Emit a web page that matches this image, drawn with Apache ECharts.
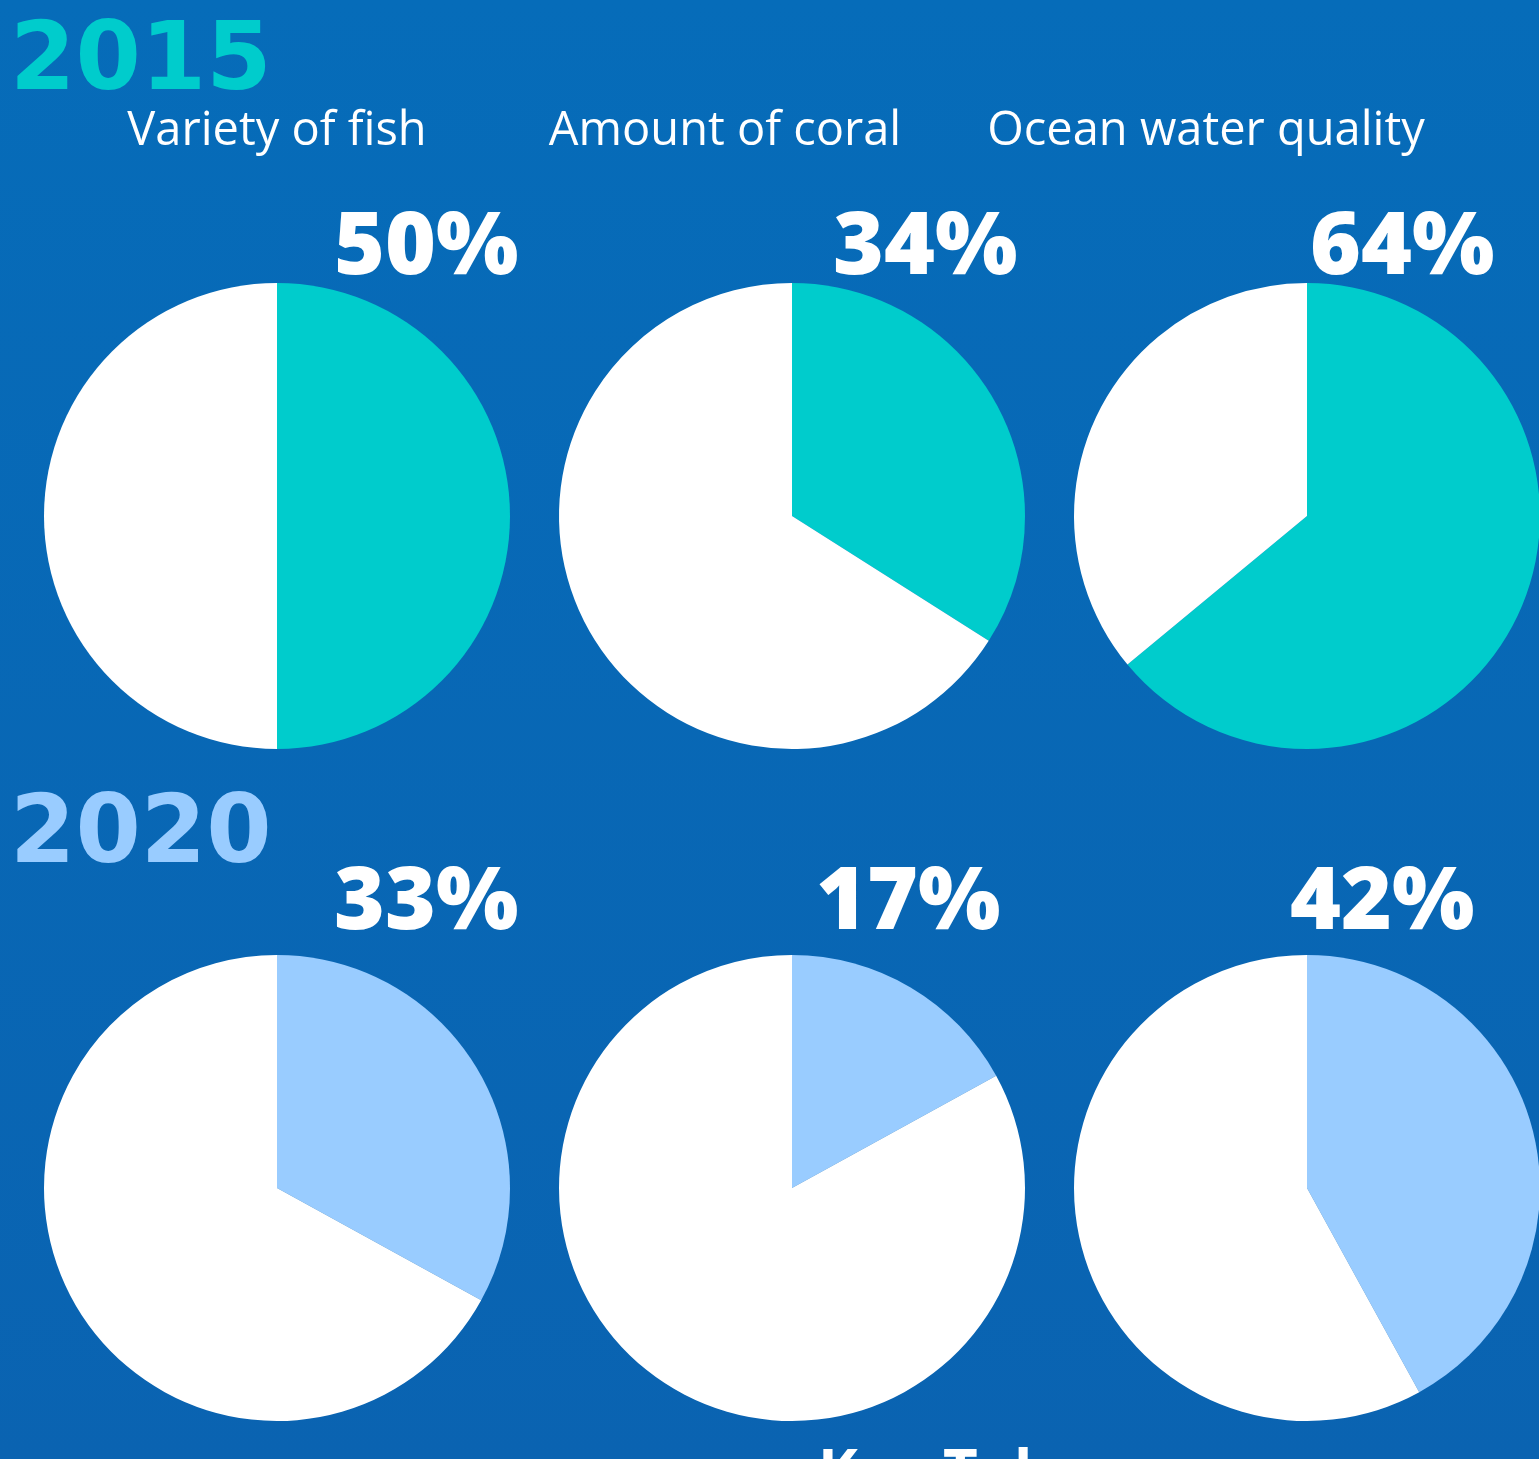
<!DOCTYPE html>
<html>
<head>
<meta charset="utf-8">
<title>Ocean health 2015 vs 2020</title>
<script src="https://cdn.jsdelivr.net/npm/echarts@6/dist/echarts.min.js"></script>
<style>
  html, body { margin: 0; padding: 0; width: 1539px; height: 1459px; overflow: hidden; }
  #chart { width: 1539px; height: 1459px; }
</style>
</head>
<body>
<div id="chart"></div>
<script>
// Indicators shown in each row
const categories = ['Variety of fish', 'Amount of coral', 'Ocean water quality'];
const years = ['2015', '2020'];
// Share (%) per indicator
const values2015 = [50, 34, 64];
const values2020 = [33, 17, 42];

const yearColors = ['#00CCCC', '#99CCFF'];
const restColor = '#FFFFFF';

// Layout (pixels)
const colX = [277, 792, 1307];
const rowY = [516, 1188];
const pieRadius = 233;
const pctLeft = [[334, 833, 1310], [334, 816, 1290]];
const pctTop = [206, 861];
const yearTop = [18, 791];
const catCenterX = [277, 725, 1206];

const chart = echarts.init(document.getElementById('chart'), null, { renderer: 'canvas' });

const rows = [values2015, values2020];
const series = [];
const graphic = [];

rows.forEach((vals, r) => {
  vals.forEach((v, c) => {
    series.push({
      type: 'pie',
      name: years[r] + ' ' + categories[c],
      center: [colX[c], rowY[r]],
      radius: [0, pieRadius],
      startAngle: 90,
      clockwise: true,
      silent: true,
      label: { show: false },
      labelLine: { show: false },
      itemStyle: { borderWidth: 0 },
      emphasis: { disabled: true },
      animation: false,
      data: [
        { value: v, name: categories[c], itemStyle: { color: yearColors[r] } },
        { value: 100 - v, name: 'rest', itemStyle: { color: restColor } }
      ]
    });
    graphic.push({
      type: 'text',
      left: pctLeft[r][c],
      top: pctTop[r],
      style: {
        text: v + '%',
        fill: '#FFFFFF',
        font: '800 87px "Open Sans", sans-serif'
      }
    });
  });
  graphic.push({
    type: 'text',
    left: 10,
    top: yearTop[r],
    style: {
      text: years[r],
      fill: yearColors[r],
      font: 'bold 94px "DejaVu Sans", sans-serif'
    }
  });
});

categories.forEach((name, c) => {
  graphic.push({
    type: 'text',
    x: catCenterX[c],
    y: 132,
    style: {
      text: name,
      fill: '#FFFFFF',
      align: 'center',
      verticalAlign: 'middle',
      font: '400 47px "Open Sans", sans-serif'
    }
  });
});

graphic.push({
  type: 'text',
  left: 818,
  top: 1446,
  style: {
    text: 'Key Takeaways',
    fill: '#FFFFFF',
    font: '700 60px "Open Sans", sans-serif'
  }
});

chart.setOption({
  backgroundColor: {
    type: 'linear', x: 0, y: 0, x2: 0, y2: 1,
    colorStops: [
      { offset: 0, color: '#066CB9' },
      { offset: 1, color: '#0A63B1' }
    ]
  },
  animation: false,
  series: series,
  graphic: graphic
});
</script>
</body>
</html>
